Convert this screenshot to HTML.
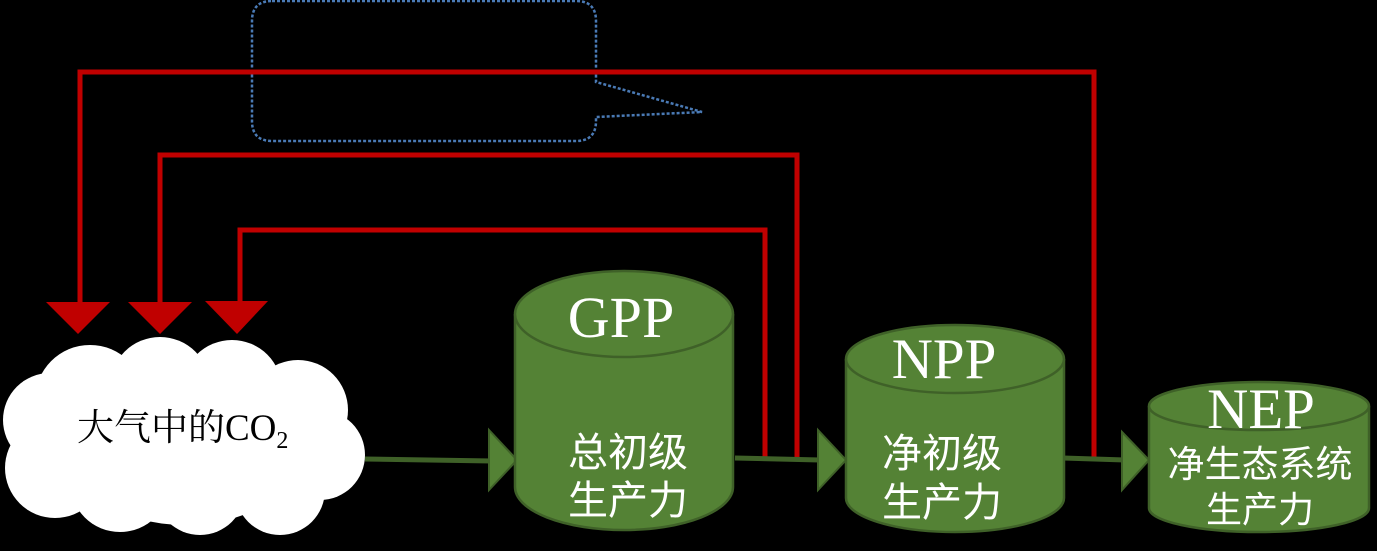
<!DOCTYPE html>
<html><head><meta charset="utf-8"><style>
html,body{margin:0;padding:0;background:#000;}
svg{display:block;}
</style></head><body>
<svg width="1377" height="551" viewBox="0 0 1377 551" xmlns="http://www.w3.org/2000/svg">
<rect width="1377" height="551" fill="#000"/>
<path d="M272,1 H576 Q596,1 596,21 V82 L702,112 L596,117 V121 Q596,141 576,141 H272 Q252,141 252,121 V21 Q252,1 272,1 Z" fill="none" stroke="#4a7ab5" stroke-width="2.5" stroke-dasharray="3,2"/>
<g fill="none" stroke="#c00000" stroke-width="5">
<polyline points="80,305 80,72 1094,72 1094,460"/>
<polyline points="160,305 160,155 797,155 797,460"/>
<polyline points="240,305 240,230 765,230 765,458"/>
</g>
<g fill="#c00000">
<polygon points="46,302 110,302 78,334"/>
<polygon points="128,302 192,302 160,334"/>
<polygon points="205,301 268,301 237,334"/>
</g>
<g fill="#fff">
<circle cx="90" cy="400" r="55"/>
<circle cx="160" cy="387" r="50"/>
<circle cx="232" cy="390" r="50"/>
<circle cx="298" cy="410" r="50"/>
<circle cx="320" cy="455" r="45"/>
<circle cx="280" cy="490" r="45"/>
<circle cx="200" cy="490" r="45"/>
<circle cx="120" cy="482" r="50"/>
<circle cx="55" cy="468" r="50"/>
<circle cx="50" cy="420" r="47"/>
<ellipse cx="185" cy="445" rx="120" ry="80"/>
</g>
<text x="77" y="440" font-family="Liberation Serif, Noto Serif CJK SC, serif" font-size="37" fill="#000">大气中的CO<tspan font-size="24" dy="8">2</tspan></text>
<g stroke="#3f6128" stroke-width="5" fill="none">
<line x1="365" y1="459" x2="492" y2="461"/>
<line x1="735" y1="458" x2="820" y2="460"/>
<line x1="1063" y1="458" x2="1125" y2="460"/>
</g>
<g fill="#548235" stroke="#3f6128" stroke-width="2">
<polygon points="489,430 517,460 489,490"/>
<polygon points="818,430 846,460 818,490"/>
<polygon points="1122,432 1149,460 1122,490"/>
</g>
<g fill="#548235" stroke="#3f6128" stroke-width="2.5">
<path d="M515,314 V487 A109,43 0 0 0 733,487 V314"/>
<ellipse cx="624" cy="314" rx="109" ry="43"/>
<path d="M846,359 V498 A109,34 0 0 0 1064,498 V359"/>
<ellipse cx="955" cy="359" rx="109" ry="34"/>
<path d="M1149,406 V508 A110,24 0 0 0 1369,508 V406"/>
<ellipse cx="1259" cy="406" rx="110" ry="24"/>
</g>
<g fill="#fff" text-anchor="middle">
<text x="621" y="337" font-family="Liberation Serif, serif" font-size="58">GPP</text>
<text x="628" y="466" font-family="Liberation Sans, Noto Sans CJK SC, sans-serif" font-size="40">总初级</text>
<text x="628" y="514" font-family="Liberation Sans, Noto Sans CJK SC, sans-serif" font-size="40">生产力</text>
<text x="944" y="378" font-family="Liberation Serif, serif" font-size="57">NPP</text>
<text x="942" y="467" font-family="Liberation Sans, Noto Sans CJK SC, sans-serif" font-size="40">净初级</text>
<text x="942" y="516" font-family="Liberation Sans, Noto Sans CJK SC, sans-serif" font-size="40">生产力</text>
<text x="1261" y="428" font-family="Liberation Serif, serif" font-size="57">NEP</text>
<text x="1260" y="477" font-family="Liberation Sans, Noto Sans CJK SC, sans-serif" font-size="37">净生态系统</text>
<text x="1260" y="522" font-family="Liberation Sans, Noto Sans CJK SC, sans-serif" font-size="36">生产力</text>
</g>
</svg>
</body></html>
